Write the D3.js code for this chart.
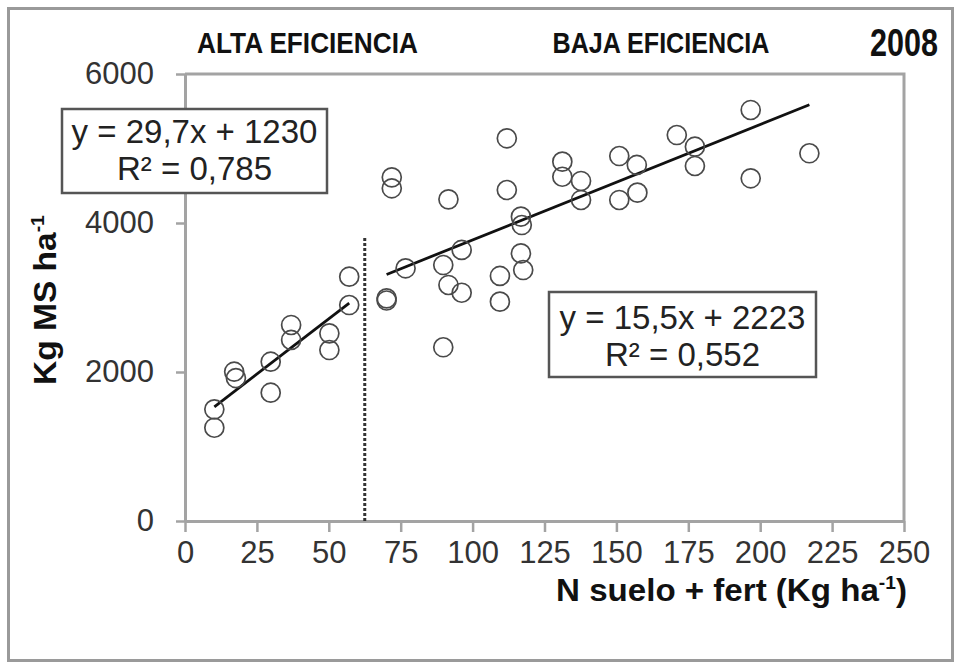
<!DOCTYPE html>
<html>
<head>
<meta charset="utf-8">
<script src="https://cdn.jsdelivr.net/npm/d3@7/dist/d3.min.js"></script>
<style>
  html, body { margin: 0; padding: 0; background: #fff; }
  svg { display: block; }
  text { font-family: "Liberation Sans", Arial, sans-serif; }
</style>
</head>
<body>
<svg id="chart" width="961" height="670"></svg>
<script>
// Soil + fertiliser N (kg/ha) vs dry matter yield (kg MS/ha), 2008
const altaN  = [10.2, 10.2, 17.1, 17.7, 29.8, 29.8, 36.9, 36.9, 50.2, 50.2, 57.1, 57.1];
const altaMS = [1499, 1252, 2004, 1919, 2138, 1722, 2631, 2430, 2519, 2295, 3279, 2899];

const bajaN  = [70.1, 70.1, 71.9, 71.9, 76.7, 91.6, 89.8, 89.8, 91.6, 96.2, 96.2,
                111.9, 111.9, 109.5, 109.5, 116.8, 117.6, 116.8, 117.1, 131.2, 131.2,
                137.7, 137.7, 151, 157.1, 151, 157.3, 171, 177.3, 177.3, 196.7, 196.7, 217.1];
const bajaMS = [2989, 2960, 4613, 4466, 3392, 4318, 2332, 3436, 3168, 3064, 3638,
                5137, 4443, 3289, 2944, 3593, 3369, 4085, 3973, 4823, 4621,
                4564, 4309, 4899, 4779, 4309, 4407, 5181, 5024, 4765, 5517, 4600, 4936];

// Linear fits for each group
const fitAlta = { slope: 29.7, intercept: 1230, r2: 0.785 };
const fitBaja = { slope: 15.5, intercept: 2223, r2: 0.552 };

// Boundary between the high- and low-efficiency zones
const thresholdN = 62.5;
const thresholdTop = 3800;

const xTicks = [0, 25, 50, 75, 100, 125, 150, 175, 200, 225, 250];
const yTicks = [0, 2000, 4000, 6000];

const titleAlta = "ALTA EFICIENCIA";
const titleBaja = "BAJA EFICIENCIA";
const yearLabel = "2008";

const svg = d3.select("#chart");

const x = d3.scaleLinear().domain([0, 250]).range([185, 904]);
const y = d3.scaleLinear().domain([0, 6000]).range([521, 74]);

const axisColor = "#a3a3a3";
const tickText = "#333";

// outer frame
svg.append("rect")
  .attr("x", 8.5).attr("y", 8.5).attr("width", 944).attr("height", 652)
  .attr("fill", "none").attr("stroke", "#9a9a9a").attr("stroke-width", 3);

// plot frame (top and right edges)
svg.append("path")
  .attr("d", `M${x(0)},${y(6000)}H${x(250)}V${y(0)}`)
  .attr("fill", "none").attr("stroke", axisColor).attr("stroke-width", 3);

// axes
const gx = svg.append("g")
  .attr("transform", `translate(0,${y(0)})`)
  .call(d3.axisBottom(x).tickValues(xTicks).tickFormat(d3.format("d"))
        .tickSize(11).tickSizeOuter(0).tickPadding(9));
const gy = svg.append("g")
  .attr("transform", `translate(${x(0)},0)`)
  .call(d3.axisLeft(y).tickValues(yTicks).tickFormat(d3.format("d"))
        .tickSize(9).tickSizeOuter(0).tickPadding(22));

[gx, gy].forEach(g => {
  g.select(".domain").attr("stroke", axisColor).attr("stroke-width", 3);
  g.selectAll(".tick line").attr("stroke", axisColor).attr("stroke-width", 2.5);
  g.selectAll(".tick text")
    .attr("fill", tickText)
    .style("font-family", '"Liberation Sans", Arial, sans-serif')
    .style("font-size", "31px");
});

// threshold line
svg.append("line")
  .attr("x1", x(thresholdN)).attr("x2", x(thresholdN))
  .attr("y1", y(thresholdTop)).attr("y2", y(0))
  .attr("stroke", "#333").attr("stroke-width", 3)
  .attr("stroke-dasharray", "3,2");

// regression lines over each group's N range
function fitLine(fit, xs) {
  const [x0, x1] = d3.extent(xs);
  svg.append("line")
    .attr("x1", x(x0)).attr("y1", y(fit.slope * x0 + fit.intercept))
    .attr("x2", x(x1)).attr("y2", y(fit.slope * x1 + fit.intercept))
    .attr("stroke", "#111").attr("stroke-width", 2.8);
}
fitLine(fitAlta, altaN);
fitLine(fitBaja, bajaN);

// observations
const pts = altaN.map((n, i) => [n, altaMS[i]])
  .concat(bajaN.map((n, i) => [n, bajaMS[i]]));
svg.append("g").selectAll("circle")
  .data(pts).join("circle")
  .attr("cx", d => x(d[0])).attr("cy", d => y(d[1]))
  .attr("r", 9.5)
  .attr("fill", "none").attr("stroke", "#4a4a4a").attr("stroke-width", 1.7);

// equation boxes
const fmt = (v, digits) => v.toFixed(digits).replace(".", ",");
function eqBox(fit, bx, by, bw, bh, line1Y, line2Y) {
  const g = svg.append("g");
  g.append("rect")
    .attr("x", bx).attr("y", by).attr("width", bw).attr("height", bh)
    .attr("fill", "#fff").attr("stroke", "#555").attr("stroke-width", 2.5);
  const cx = bx + bw / 2;
  g.append("text")
    .attr("x", cx).attr("y", line1Y).attr("text-anchor", "middle")
    .attr("font-size", 33).attr("fill", "#222")
    .text(`y = ${fmt(fit.slope, 1)}x + ${fit.intercept}`);
  g.append("text")
    .attr("x", cx).attr("y", line2Y).attr("text-anchor", "middle")
    .attr("font-size", 33).attr("fill", "#222")
    .text(`R² = ${fmt(fit.r2, 3)}`);
}
eqBox(fitAlta, 62, 109, 265, 84, 143, 180);
eqBox(fitBaja, 549, 292, 267, 85, 329, 366);

// text squeezed horizontally to a given width
function fitted(parent, tx, ty, width, rotate) {
  const g = parent.append("g")
    .attr("transform", `translate(${tx},${ty})` + (rotate ? ` rotate(${rotate})` : ""));
  const t = g.append("text").attr("text-anchor", "middle");
  return {
    text: t,
    done() {
      const w = t.node().getComputedTextLength();
      t.attr("transform", `scale(${width / w},1)`);
    }
  };
}

function boldLabel(str, cx, baseY, size, width) {
  const f = fitted(svg, cx, baseY, width);
  f.text.attr("font-size", size).attr("font-weight", "bold").attr("fill", "#111").text(str);
  f.done();
}
boldLabel(titleAlta, 307.5, 53, 29, 221);
boldLabel(titleBaja, 661, 53, 29, 217);
boldLabel(yearLabel, 904, 56, 38, 68);

// x-axis title
{
  const f = fitted(svg, 731.5, 601, 351);
  f.text.attr("font-size", 31).attr("font-weight", "bold").attr("fill", "#111");
  f.text.append("tspan").text("N suelo + fert (Kg ha");
  f.text.append("tspan").attr("font-size", 18).attr("dy", -12).text("-1");
  f.text.append("tspan").attr("dy", 12).text(")");
  f.done();
}

// y-axis title
{
  const f = fitted(svg, 56, 300, 170, -90);
  f.text.attr("font-size", 31).attr("font-weight", "bold").attr("fill", "#111");
  f.text.append("tspan").text("Kg MS ha");
  f.text.append("tspan").attr("font-size", 18).attr("dy", -12).text("-1");
  f.done();
}
</script>
</body>
</html>
